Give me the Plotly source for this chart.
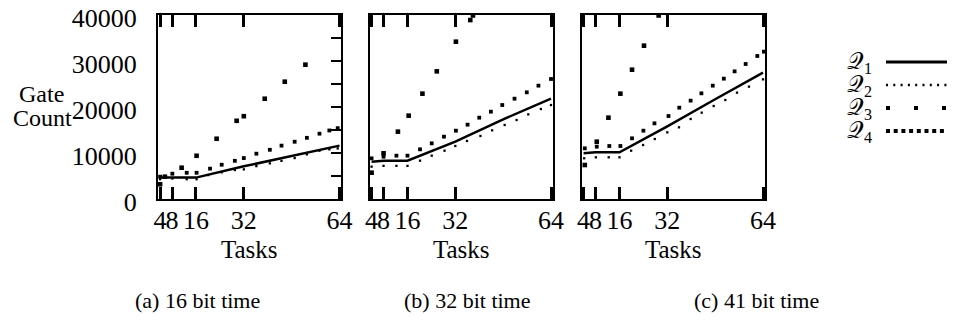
import plotly.graph_objects as go

# ---------------- data ----------------
tick_vals = [4, 8, 16, 32, 64]
tick_text = ["4", "8", "16", "32", "64"]
y_tick_vals = [0, 10000, 20000, 30000, 40000]
y_tick_text = ["0", "10000", "20000", "30000", "40000"]

panel_titles = ["(a) 16 bit time", "(b) 32 bit time", "(c) 41 bit time"]
series_names = ["𝒬<sub>1</sub>", "𝒬<sub>2</sub>", "𝒬<sub>3</sub>", "𝒬<sub>4</sub>"]

# panel (a) 16 bit time
a_q1_x = [4, 8, 16, 32, 48, 64]
a_q1_y = [4650, 4650, 4650, 7100, 9400, 11600]
a_q2_x = [4, 8.1, 12.9, 16.2, 20.1, 24.6, 29, 32, 36.2, 40.7, 44.6, 49, 53.1, 57.3, 60.6, 63.4]
a_q2_y = [4300, 4450, 4300, 4300, 5200, 5800, 6300, 6450, 7150, 7750, 8300, 8900, 9700, 10500, 10800, 11000]
a_q3_x = [4, 5.6, 11.2, 16.2, 22.9, 29.6, 32, 39, 45.7, 52.6]
a_q3_y = [3200, 4850, 6800, 9400, 13100, 17000, 18000, 21800, 25500, 29200]
a_q4_x = [4, 8.1, 12.9, 16.2, 20.7, 24.6, 29, 32, 36.2, 40.7, 44.6, 49, 53.1, 57.3, 60.6, 63.4]
a_q4_y = [4850, 5500, 5700, 5700, 6600, 7450, 8300, 8900, 9850, 10700, 11600, 12450, 13300, 14200, 14900, 15400]

# panel (b) 32 bit time
b_q1_x = [4, 8, 16, 32, 48, 64]
b_q1_y = [8100, 8300, 8330, 12460, 17320, 21800]
b_q2_x = [4, 8, 12.3, 16, 20.2, 24.1, 28.4, 32, 35.9, 40.4, 44.3, 48.5, 52.5, 56.4, 60.6, 64]
b_q2_y = [7030, 7200, 7200, 7200, 8330, 9420, 10500, 11520, 12610, 13700, 14930, 16090, 17170, 18400, 19560, 20430]
b_q3_x = [4, 8, 12.8, 16.4, 21, 25.8, 32.2, 37, 37.9]
b_q3_y = [5720, 9930, 14640, 18115, 22900, 27750, 34200, 38900, 39900]
b_q4_x = [4, 8, 12.3, 16, 20.2, 24.1, 28.2, 32.2, 36.1, 40, 43.9, 47.7, 51.8, 55.9, 59.8, 64]
b_q4_y = [8840, 9200, 9420, 9420, 10800, 12100, 13550, 14850, 16160, 17680, 18980, 20430, 21810, 23190, 24640, 26090]

# panel (c) 41 bit time
c_q1_x = [4, 8, 16, 32, 48, 64]
c_q1_y = [9930, 10140, 10140, 15800, 21680, 27460]
c_q2_x = [4.2, 8.1, 12.4, 16, 19.9, 23.9, 27.8, 32, 35.9, 39.8, 43.5, 47.5, 51.4, 55.3, 59.3, 64]
c_q2_y = [8850, 9060, 9060, 9060, 10500, 11740, 13040, 14490, 15580, 17390, 18770, 20220, 21520, 23115, 24420, 26010]
c_q3_x = [4.4, 8.4, 12.3, 16.3, 20.2, 24.2, 29.1]
c_q3_y = [7390, 12460, 17680, 22900, 28110, 33330, 39900]
c_q4_x = [4.4, 8.4, 12.6, 16.3, 20.2, 24.0, 27.7, 32.4, 36.0, 39.8, 43.4, 47.2, 50.9, 54.5, 58.2, 62.1, 64.3]
c_q4_y = [11010, 11380, 11520, 11520, 13190, 14850, 16450, 18040, 19850, 21380, 22970, 24640, 26160, 27750, 29350, 31090, 32030]

panels = [
    (a_q1_x, a_q1_y, a_q2_x, a_q2_y, a_q3_x, a_q3_y, a_q4_x, a_q4_y),
    (b_q1_x, b_q1_y, b_q2_x, b_q2_y, b_q3_x, b_q3_y, b_q4_x, b_q4_y),
    (c_q1_x, c_q1_y, c_q2_x, c_q2_y, c_q3_x, c_q3_y, c_q4_x, c_q4_y),
]

# ---------------- layout geometry (page pixels) ----------------
# the page body has an 8px margin, so the figure is offset by 8px
OFF = 8
W, H = 955 - OFF, 322 - OFF
FONT = "Liberation Serif"
panel_px = [(158, 341), (369.5, 552.5), (581.5, 764.5)]
plot_top, plot_bottom = 15, 199
caption_x = [197, 467, 756]


def px(x):
    return (x - OFF) / W


def py(y):
    return 1 - (y - OFF) / H


fig = go.Figure()

for i, (q1x, q1y, q2x, q2y, q3x, q3y, q4x, q4y) in enumerate(panels):
    sx = "" if i == 0 else str(i + 1)
    xa, ya = "x" + sx, "y" + sx
    fig.add_trace(go.Scatter(x=q2x, y=q2y, xaxis=xa, yaxis=ya, mode="markers",
                             marker=dict(symbol="square", size=2.3, color="black", line=dict(width=0)),
                             showlegend=False, cliponaxis=False))
    fig.add_trace(go.Scatter(x=q4x, y=q4y, xaxis=xa, yaxis=ya, mode="markers",
                             marker=dict(symbol="square", size=3.8, color="black", line=dict(width=0)),
                             showlegend=False, cliponaxis=False))
    fig.add_trace(go.Scatter(x=q3x, y=q3y, xaxis=xa, yaxis=ya, mode="markers",
                             marker=dict(symbol="square", size=4.6, color="black", line=dict(width=0)),
                             showlegend=False, cliponaxis=False))
    fig.add_trace(go.Scatter(x=q1x, y=q1y, xaxis=xa, yaxis=("y4" if i == 0 else ya), mode="lines",
                             line=dict(color="black", width=2.5), showlegend=False))

layout = dict(
    width=W, height=H, margin=dict(l=0, r=0, t=0, b=0, autoexpand=False),
    paper_bgcolor="white", plot_bgcolor="white",
    font=dict(family=FONT, color="black", size=25),
    showlegend=False,
)

ydom = [py(plot_bottom), py(plot_top)]
for i, (l, r) in enumerate(panel_px):
    sx = "" if i == 0 else str(i + 1)
    layout["xaxis" + sx] = dict(
        domain=[px(l), px(r)], anchor="y" + sx, range=[3.3, 64.5], automargin=False,
        tickmode="array", tickvals=tick_vals, ticktext=tick_text, tickangle=0,
        ticks="inside", ticklen=12, tickwidth=2.5, tickcolor="black",
        showline=True, linewidth=2, linecolor="black", mirror="ticks",
        showgrid=False, zeroline=False, tickfont=dict(size=26, family=FONT),
        ticklabelstandoff=-3, ticklabeloverflow="allow",
    )
    layout["yaxis" + sx] = dict(
        domain=ydom, anchor="x" + sx, range=[0, 40000], automargin=False,
        tickmode="array", tickvals=y_tick_vals, ticktext=y_tick_text,
        ticks="", showline=True, linewidth=2, linecolor="black", mirror=True,
        showgrid=False, zeroline=False, showticklabels=(i == 0),
        tickfont=dict(size=26, family=FONT), ticklabelstandoff=14,
        ticklabelshift=3, ticklabeloverflow="allow",
    )

layout["yaxis4"] = dict(
    overlaying="y", anchor="x", side="right", range=[0, 40000], automargin=False,
    tick0=0, dtick=5000, ticks="inside", ticklen=10, tickwidth=2, tickcolor="black",
    showticklabels=False, showline=False, showgrid=False, zeroline=False,
)

# legend axes (sample lines), page-pixel rows
layout["xaxis5"] = dict(domain=[px(886), px(953)], anchor="y5", range=[0, 1], visible=False, automargin=False)
layout["yaxis5"] = dict(domain=[0, 1], anchor="x5", range=[322, OFF], visible=False, automargin=False)

legend_rows = [62, 85, 108, 131]
legend_styles = [
    dict(width=3, dash="solid"),
    dict(width=2.3, dash="2px,5.3px"),
    dict(width=4, dash="4px,24px"),
    dict(width=4, dash="4px,3.7px"),
]
for yrow, st in zip(legend_rows, legend_styles):
    fig.add_trace(go.Scatter(x=[0, 1], y=[yrow, yrow], xaxis="x5", yaxis="y5", mode="lines",
                             line=dict(color="black", **st), showlegend=False))

annotations = []
annotations.append(dict(text="Gate", x=px(41), y=py(94), xref="paper", yref="paper",
                        showarrow=False, font=dict(size=24), xanchor="center", yanchor="middle"))
annotations.append(dict(text="Count", x=px(42), y=py(118), xref="paper", yref="paper",
                        showarrow=False, font=dict(size=24), xanchor="center", yanchor="middle"))
for i, (l, r) in enumerate(panel_px):
    annotations.append(dict(text="Tasks", x=px((l + r) / 2), y=py(249), xref="paper", yref="paper",
                            showarrow=False, font=dict(size=25), xanchor="center", yanchor="middle"))
    annotations.append(dict(text=panel_titles[i], x=px(caption_x[i]), y=py(300), xref="paper", yref="paper",
                            showarrow=False, font=dict(size=22), xanchor="center", yanchor="middle"))
for name, yrow in zip(series_names, legend_rows):
    annotations.append(dict(text=name, x=px(874), y=py(yrow + 1), xref="paper", yref="paper",
                            showarrow=False, font=dict(size=23), xanchor="right", yanchor="middle"))
layout["annotations"] = annotations

fig.update_layout(**layout)
fig.write_html("out.html")
